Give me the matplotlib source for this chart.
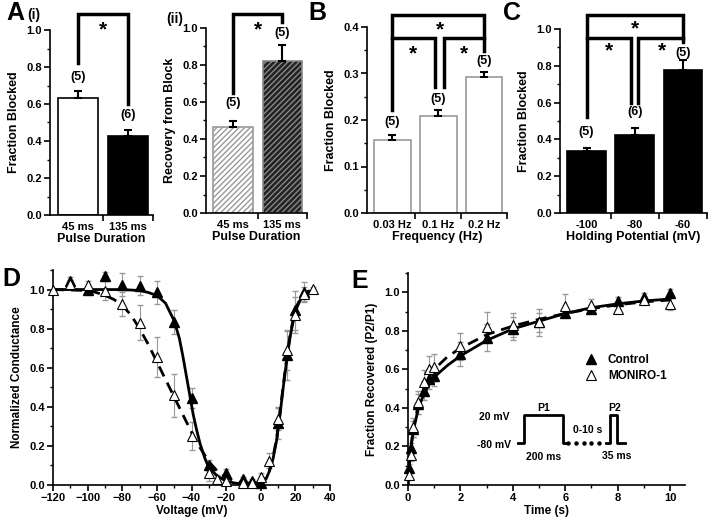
import numpy as np
import matplotlib
matplotlib.use('Agg')
import matplotlib.pyplot as plt
from matplotlib.ticker import MultipleLocator

plt.rcParams['font.family'] = ['Liberation Sans', 'DejaVu Sans']
plt.rcParams['font.weight'] = 'bold'
plt.rcParams['axes.labelweight'] = 'bold'
plt.rcParams['hatch.linewidth'] = 1.0

# ---- panel A (i)
a1_labels = ['45 ms', '135 ms']
a1_vals = [0.635, 0.425]
a1_err = [0.035, 0.035]
a1_n = ['(5)', '(6)']
a1_n_y = [0.745, 0.54]

# ---- panel A (ii)
a2_labels = ['45 ms', '135 ms']
a2_vals = [0.465, 0.82]
a2_err = [0.03, 0.09]
a2_n = ['(5)', '(5)']
a2_n_y = [0.595, 0.975]

# ---- panel B
b_labels = ['0.03 Hz', '0.1 Hz', '0.2 Hz']
b_vals = [0.157, 0.208, 0.292]
b_err = [0.011, 0.013, 0.012]
b_n = ['(5)', '(5)', '(5)']
b_n_y = [0.196, 0.246, 0.327]

# ---- panel C
c_labels = ['-100', '-80', '-60']
c_vals = [0.335, 0.425, 0.775]
c_err = [0.02, 0.035, 0.055]
c_n = ['(5)', '(6)', '(5)']
c_n_y = [0.44, 0.55, 0.872]

# ---- panel D
d_ctrl_v = [-110, -100, -90, -80, -70, -60, -50, -40, -30, -20, -10, -5, 0, 10, 15, 20, 25]
d_ctrl_g = [1.045, 1.0, 1.07, 1.025, 1.02, 0.985, 0.835, 0.445, 0.10, 0.06, 0.03, 0.02, 0.01, 0.315, 0.665, 0.895, 0.99]
d_ctrl_e = [0.02, 0.01, 0.02, 0.06, 0.05, 0.06, 0.06, 0.05, 0.03, 0.02, 0.01, 0.01, 0.01, 0.08, 0.13, 0.10, 0.05]
d_mon_v = [-120, -110, -100, -90, -80, -70, -60, -50, -40, -30, -25, -20, -10, -5, 0, 5, 10, 15, 20, 25, 30]
d_mon_g = [1.0, 1.03, 1.025, 0.995, 0.925, 0.83, 0.655, 0.46, 0.25, 0.06, 0.03, 0.02, 0.01, 0.01, 0.04, 0.125, 0.34, 0.69, 0.87, 0.975, 1.005]
d_mon_e = [0.0, 0.02, 0.02, 0.05, 0.06, 0.09, 0.10, 0.11, 0.07, 0.04, 0.02, 0.02, 0.01, 0.01, 0.02, 0.04, 0.06, 0.10, 0.09, 0.04, 0.01]
# fitted curves
d_fit_ctrl_v = [-120, -100, -80, -70, -65, -60, -55, -50, -47, -45, -43, -41, -39, -37, -35, -32, -30,
                -25, -20, -15, -10, -5, 0, 3, 5, 7, 9, 11, 13, 15, 17, 19, 21, 23, 25, 28]
d_fit_ctrl_g = [1.0, 1.0, 1.0, 0.995, 0.985, 0.97, 0.93, 0.84, 0.75, 0.66, 0.56, 0.46, 0.36, 0.28, 0.21, 0.13, 0.09,
                0.045, 0.02, 0.01, 0.005, 0.005, 0.01, 0.03, 0.07, 0.13, 0.22, 0.35, 0.50, 0.64, 0.76, 0.85, 0.91, 0.95, 0.97, 0.99]
d_fit_mon_v = [-120, -100, -95, -90, -85, -80, -75, -70, -65, -60, -55, -50, -45, -40, -35, -30, -25, -20, -15, -10,
               -5, 0, 3, 5, 7, 9, 11, 13, 15, 17, 19, 21, 23, 25, 28]
d_fit_mon_g = [1.0, 0.995, 0.985, 0.97, 0.95, 0.92, 0.87, 0.80, 0.72, 0.63, 0.54, 0.45, 0.36, 0.27, 0.19, 0.12, 0.07, 0.04, 0.02, 0.01,
               0.01, 0.015, 0.035, 0.075, 0.14, 0.23, 0.36, 0.51, 0.65, 0.77, 0.86, 0.92, 0.955, 0.975, 0.995]

# ---- panel E
e_t = [0.05, 0.1, 0.2, 0.4, 0.6, 0.8, 1, 2, 3, 4, 5, 6, 7, 8, 9, 10]
e_ctrl = [0.09, 0.19, 0.29, 0.42, 0.49, 0.55, 0.565, 0.68, 0.765, 0.81, 0.845, 0.89, 0.915, 0.955, 0.975, 0.995]
e_ctrl_e = [0.02, 0.03, 0.04, 0.05, 0.05, 0.05, 0.05, 0.06, 0.07, 0.06, 0.05, 0.02, 0.02, 0.02, 0.02, 0.02]
e_mon = [0.05, 0.155, 0.30, 0.43, 0.535, 0.60, 0.61, 0.72, 0.82, 0.83, 0.845, 0.93, 0.935, 0.915, 0.96, 0.94]
e_mon_e = [0.02, 0.03, 0.05, 0.06, 0.06, 0.07, 0.07, 0.07, 0.08, 0.06, 0.07, 0.06, 0.03, 0.02, 0.02, 0.03]
e_fit_t = [0, 0.05, 0.1, 0.2, 0.4, 0.6, 0.8, 1, 1.5, 2, 3, 4, 5, 6, 7, 8, 9, 10]
e_fit_ctrl = [0.0, 0.1, 0.18, 0.28, 0.40, 0.47, 0.52, 0.56, 0.62, 0.67, 0.75, 0.81, 0.85, 0.89, 0.92, 0.94, 0.955, 0.965]
e_fit_mon = [0.0, 0.1, 0.18, 0.29, 0.42, 0.50, 0.56, 0.60, 0.665, 0.71, 0.78, 0.825, 0.86, 0.89, 0.915, 0.935, 0.95, 0.96]
# voltage protocol inset (drawn in E data units)
prot_x = [4.21, 4.43, 4.43, 5.93, 5.93, 6.1]
prot_y = [0.216, 0.216, 0.363, 0.363, 0.216, 0.216]
prot_dots_x = [6.1, 6.4, 6.7, 7.0, 7.3]
prot2_x = [7.55, 7.71, 7.71, 7.97, 7.97, 8.28]
prot2_y = [0.216, 0.216, 0.363, 0.363, 0.216, 0.216]

W, H = 709, 519
fig = plt.figure(figsize=(W / 100, H / 100), dpi=100)

TICK_FS = 8
LAB_FS = 9


def add_ax(l, r, t, b):
    return fig.add_axes([l / W, 1 - b / H, (r - l) / W, (b - t) / H])


def style(ax):
    for s in ['top', 'right']:
        ax.spines[s].set_visible(False)
    for s in ['left', 'bottom']:
        ax.spines[s].set_linewidth(1.2)
    ax.tick_params(which='major', direction='out', length=4, width=1.2, labelsize=TICK_FS, pad=2)
    ax.tick_params(which='minor', direction='out', length=2.5, width=1)


def bar_panel(ax, vals, err, labels, faces, edges, hatches, ymax, step):
    x = np.arange(len(vals))
    for i in range(len(vals)):
        ax.bar(x[i], vals[i], width=0.8, color=faces[i], edgecolor=edges[i],
               hatch=hatches[i], linewidth=1.2, zorder=2)
    ax.errorbar(x, vals, yerr=[np.zeros(len(vals)), err], fmt='none',
                ecolor='black', elinewidth=1.5, capsize=3, capthick=1.5, zorder=3)
    ax.set_ylim(0, ymax)
    ax.set_xlim(-0.55, len(vals) - 0.5)
    ax.set_xticks(x)
    ax.set_xticklabels(labels)
    ax.set_xticks(np.arange(len(vals)) + 0.5, minor=True)
    ax.yaxis.set_major_locator(MultipleLocator(step))
    ax.yaxis.set_minor_locator(MultipleLocator(step / 2))
    style(ax)
    ax.tick_params(axis='x', which='major', length=0, pad=5)
    ax.tick_params(axis='x', which='minor', length=4, width=1.2)


def bracket(ax, pts):
    xs, ys = zip(*pts)
    ax.plot(xs, ys, color='black', lw=2.5, clip_on=False, solid_joinstyle='miter', zorder=4)


def star(ax, x, y):
    ax.text(x, y, '*', ha='center', va='center', fontsize=15, fontweight='bold', clip_on=False)


def nlab(ax, labels, ys):
    for i, (s, y) in enumerate(zip(labels, ys)):
        ax.text(i, y, s, ha='center', va='center', fontsize=9, fontweight='bold')


# A (i)
ax = add_ax(50, 153, 30, 215)
bar_panel(ax, a1_vals, a1_err, a1_labels, ['white', 'black'], ['black', 'black'], [None, None], 1.0, 0.2)
ax.set_ylabel('Fraction Blocked', fontsize=LAB_FS)
ax.set_xlabel('Pulse Duration', fontsize=LAB_FS, labelpad=1)
bracket(ax, [(0, 0.82), (0, 1.085), (1, 1.085), (1, 0.6)])
star(ax, 0.5, 1.0)
nlab(ax, a1_n, a1_n_y)

# A (ii)
ax = add_ax(206, 307, 28, 213)
bar_panel(ax, a2_vals, a2_err, a2_labels, ['white', '#222222'], ['#999999', '#888888'], ['//////', '//////'], 1.0, 0.2)
ax.set_ylabel('Recovery from Block', fontsize=LAB_FS)
ax.set_xlabel('Pulse Duration', fontsize=LAB_FS, labelpad=1)
bracket(ax, [(0, 0.65), (0, 1.075), (1, 1.075), (1, 1.03)])
star(ax, 0.5, 0.99)
nlab(ax, a2_n, a2_n_y)

# B
ax = add_ax(367, 507, 27, 213)
bar_panel(ax, b_vals, b_err, b_labels, ['white'] * 3, ['#999999'] * 3, [None] * 3, 0.4, 0.1)
ax.set_ylabel('Fraction Blocked', fontsize=LAB_FS)
ax.set_xlabel('Frequency (Hz)', fontsize=LAB_FS, labelpad=1)
bracket(ax, [(0, 0.221), (0, 0.426), (2, 0.426), (2, 0.348)])
bracket(ax, [(0, 0.376), (0.93, 0.376), (0.93, 0.27)])
bracket(ax, [(1.13, 0.27), (1.13, 0.376), (2, 0.376)])
star(ax, 1.03, 0.393)
star(ax, 0.45, 0.343)
star(ax, 1.56, 0.343)
nlab(ax, b_n, b_n_y)

# C
ax = add_ax(560, 707, 29, 213)
bar_panel(ax, c_vals, c_err, c_labels, ['black'] * 3, ['black'] * 3, [None] * 3, 1.0, 0.2)
ax.set_ylabel('Fraction Blocked', fontsize=LAB_FS)
ax.set_xlabel('Holding Potential (mV)', fontsize=LAB_FS, labelpad=1)
bracket(ax, [(0, 0.52), (0, 1.076), (2, 1.076), (2, 0.93)])
bracket(ax, [(0, 0.95), (0.93, 0.95), (0.93, 0.6)])
bracket(ax, [(1.07, 0.6), (1.07, 0.95), (2, 0.95)])
star(ax, 1.0, 1.0)
star(ax, 0.46, 0.88)
star(ax, 1.57, 0.88)
nlab(ax, c_n, c_n_y)

# D
ax = add_ax(53, 330, 270, 485)
ax.errorbar(d_mon_v, d_mon_g, yerr=d_mon_e, fmt='none', ecolor='#999999', elinewidth=0.8, capsize=2, zorder=1)
ax.errorbar(d_ctrl_v, d_ctrl_g, yerr=d_ctrl_e, fmt='none', ecolor='#999999', elinewidth=0.8, capsize=2, zorder=1)
ax.plot(d_fit_ctrl_v, d_fit_ctrl_g, color='black', lw=2, zorder=2)
ax.plot(d_fit_mon_v, d_fit_mon_g, color='black', lw=2, ls=(0, (4, 2.5)), zorder=2)
ax.plot(d_ctrl_v, d_ctrl_g, '^', color='black', ms=7, zorder=3, clip_on=False)
ax.plot(d_mon_v, d_mon_g, '^', mfc='white', mec='black', mew=0.8, ms=7, zorder=3, clip_on=False)
ax.set_xlim(-120, 40)
ax.set_ylim(0, 1.1)
ax.xaxis.set_major_locator(MultipleLocator(20))
ax.xaxis.set_minor_locator(MultipleLocator(10))
ax.set_yticks(np.arange(0, 1.01, 0.2))
ax.yaxis.set_minor_locator(MultipleLocator(0.1))
style(ax)
ax.set_ylabel('Normalized Conductance', fontsize=8.5)
ax.set_xlabel('Voltage (mV)', fontsize=8.5, labelpad=1)

# E
ax = add_ax(408, 685, 273, 485)
ax.errorbar(e_t, e_mon, yerr=e_mon_e, fmt='none', ecolor='#999999', elinewidth=0.8, capsize=2, zorder=1)
ax.errorbar(e_t, e_ctrl, yerr=e_ctrl_e, fmt='none', ecolor='#999999', elinewidth=0.8, capsize=2, zorder=1)
ax.plot(e_fit_t, e_fit_ctrl, color='black', lw=2, zorder=2)
ax.plot(e_fit_t, e_fit_mon, color='black', lw=2, ls=(0, (4, 2.5)), zorder=2)
ax.plot(e_t, e_ctrl, '^', color='black', ms=7, zorder=3, clip_on=False, label='Control')
ax.plot(e_t, e_mon, '^', mfc='white', mec='black', mew=0.8, ms=7, zorder=3, clip_on=False, label='MONIRO-1')
ax.set_xlim(0, 10.57)
ax.set_ylim(0, 1.1)
ax.xaxis.set_major_locator(MultipleLocator(2))
ax.xaxis.set_minor_locator(MultipleLocator(1))
ax.set_yticks(np.arange(0, 1.01, 0.2))
ax.yaxis.set_minor_locator(MultipleLocator(0.1))
style(ax)
ax.set_ylabel('Fraction Recovered (P2/P1)', fontsize=8.5)
ax.set_xlabel('Time (s)', fontsize=8.5, labelpad=1)
ax.legend(loc='upper left', bbox_to_anchor=(0.615, 0.645), frameon=False, fontsize=8.5,
          handletextpad=0.8, labelspacing=0.3, borderpad=0, handlelength=1.2)
ax.plot(prot_x, prot_y, color='black', lw=2)
ax.plot(prot_dots_x, [prot_y[0]] * len(prot_dots_x), 'o', color='black', ms=2.2)
ax.plot(prot2_x, prot2_y, color='black', lw=2)
ax.text(3.3, 0.354, '20 mV', ha='center', va='center', fontsize=7.5)
ax.text(3.3, 0.21, '-80 mV', ha='center', va='center', fontsize=7.5)
ax.text(5.17, 0.40, 'P1', ha='center', va='center', fontsize=7.5)
ax.text(7.9, 0.40, 'P2', ha='center', va='center', fontsize=7.5)
ax.text(6.87, 0.285, '0-10 s', ha='center', va='center', fontsize=7.5)
ax.text(5.19, 0.147, '200 ms', ha='center', va='center', fontsize=7.5)
ax.text(7.97, 0.152, '35 ms', ha='center', va='center', fontsize=7.5)

# panel letters
fig.text(15 / W, 1 - 13 / H, 'A', fontsize=18, fontweight='bold', ha='center', va='center')
fig.text(34 / W, 1 - 15 / H, '(i)', fontsize=10, fontweight='bold', ha='center', va='center')
fig.text(175 / W, 1 - 19 / H, '(ii)', fontsize=10, fontweight='bold', ha='center', va='center')
fig.text(317 / W, 1 - 13 / H, 'B', fontsize=18, fontweight='bold', ha='center', va='center')
fig.text(512 / W, 1 - 13 / H, 'C', fontsize=18, fontweight='bold', ha='center', va='center')
fig.text(11 / W, 1 - 279 / H, 'D', fontsize=18, fontweight='bold', ha='center', va='center')
fig.text(360 / W, 1 - 281 / H, 'E', fontsize=18, fontweight='bold', ha='center', va='center')

fig.savefig('out.png', dpi=100)
